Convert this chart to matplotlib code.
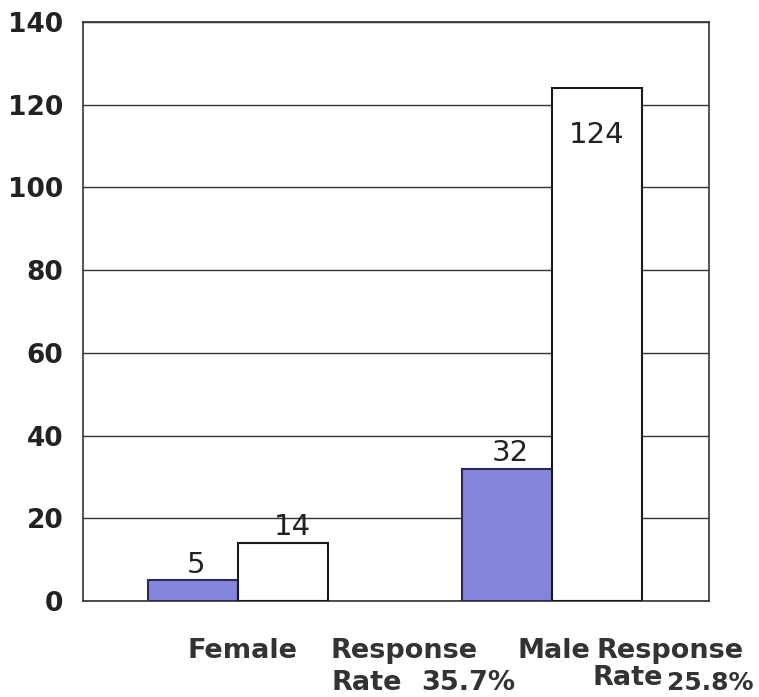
import numpy as np
import matplotlib
matplotlib.use('Agg')
import matplotlib.pyplot as plt

plt.rcParams['font.family'] = ['DejaVu Sans']

groups = ['Female', 'Male']
responded = [5, 32]
surveyed = [14, 124]
rates = ['35.7%', '25.8%']
yticks = [0, 20, 40, 60, 80, 100, 120, 140]

fig = plt.figure(figsize=(7.59, 6.97), dpi=100)
ax = fig.add_axes([83/759, 1-601/697, 626/759, 579/697])

x = np.arange(len(groups))
w = 0.287
ax.bar(x - w/2, responded, w, color='#8585dc', edgecolor='#2a2a5a', linewidth=1.5, zorder=3)
ax.bar(x + w/2, surveyed, w, color='white', edgecolor='#1a1a1a', linewidth=1.5, zorder=3)

vl = dict(fontsize=21, color='#222222', zorder=4)
for i in range(len(groups)):
    ax.text(x[i] - w/2 + 0.01, responded[i] + 0.3, str(responded[i]), ha='center', va='bottom', **vl)
    if surveyed[i] > 100:
        ax.text(x[i] + w/2, surveyed[i] - 8, str(surveyed[i]), ha='center', va='top', **vl)
    else:
        ax.text(x[i] + w/2 + 0.03, surveyed[i] + 0.5, str(surveyed[i]), ha='center', va='bottom', **vl)

ax.set_xlim(-0.494, 1.5)
ax.set_ylim(0, 140)
ax.set_yticks(yticks)
ax.set_yticklabels([str(t) for t in yticks], fontsize=19, fontweight='bold', color='#222222')
ax.tick_params(axis='y', length=0, pad=14)
ax.set_xticks([])
ax.yaxis.grid(True, color='#333333', linewidth=1.0, zorder=0)
for s in ax.spines.values():
    s.set_color('#333333')
    s.set_linewidth(1.2)

# category labels under the axis
lab = dict(fontsize=19.5, fontweight='bold', color='#333333', transform=fig.transFigure,
           ha='center', va='baseline')
ax.text(243/759, 1-658/697, groups[0], **lab)
ax.text(404/759, 1-658/697, 'Response', **lab)
ax.text(367/759, 1-690/697, 'Rate', **lab)
ax.text(468/759, 1-690/697, rates[0], **lab)
ax.text(554/759, 1-658/697, groups[1], **lab)
ax.text(670/759, 1-658/697, 'Response', **lab)
ax.text(628/759, 1-685/697, 'Rate', **lab)
lab['fontsize'] = 18
ax.text(710/759, 1-690/697, rates[1], **lab)

fig.savefig('out.png', dpi=100)
